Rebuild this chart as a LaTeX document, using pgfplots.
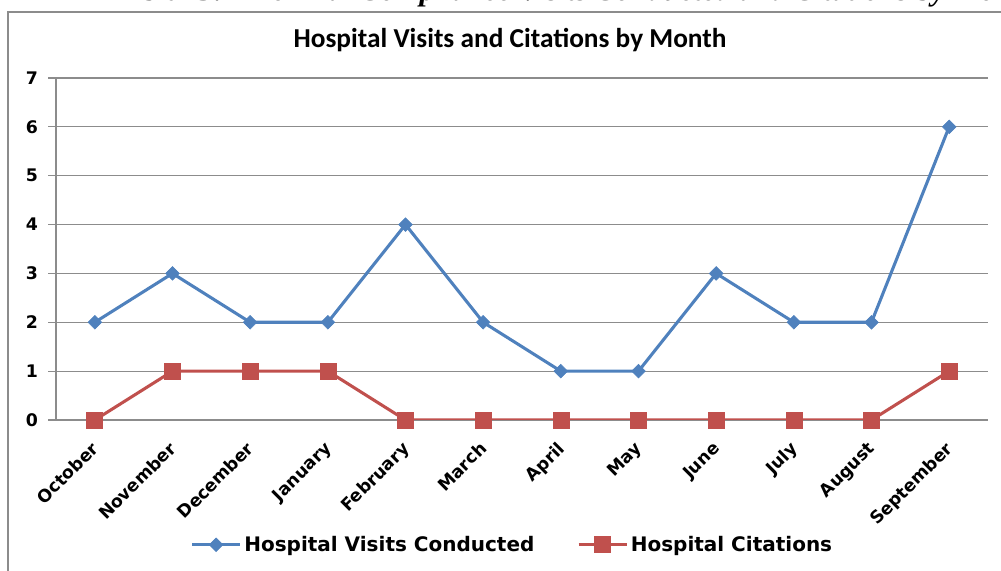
\documentclass[border=0pt]{standalone}
\usepackage{fontspec}
\usepackage{pgfplots}
\pgfplotsset{compat=1.18}
\setmainfont{DejaVu Sans}
\newfontfamily\calfont{Carlito}
\newfontfamily\headfont{Liberation Serif}

\definecolor{visitblue}{HTML}{4F81BD}
\definecolor{citered}{HTML}{C0504D}
\definecolor{gridgray}{HTML}{8C8C8C}

\begin{document}
\begin{tikzpicture}
\useasboundingbox (0pt,0pt) rectangle (750.75pt,428.25pt);
% outer chart frame, running off the right and bottom edges
\draw[gridgray, line width=1pt] (760pt,419.25pt) -- (6pt,419.25pt) -- (6pt,-5pt);
% cut-off caption above the frame
\node[anchor=base west, inner sep=0pt, font=\headfont\bfseries\itshape\fontsize{23}{25}\selectfont]
  at (61pt,428pt) {Exhibit 13: Triennial Compliance Visits Conducted and Citations by Month};
\node[font=\calfont\bfseries\fontsize{20.5}{24}\selectfont] at (382.5pt,398.5pt)
  {Hospital Visits and Citations by Month};

\begin{axis}[
  at={(42pt,113.25pt)}, anchor=south west,
  scale only axis,
  width=699pt, height=256.5pt,
  xmin=-0.5, xmax=11.5,
  ymin=0, ymax=7,
  ytick={0,1,...,7},
  xtick={0,1,...,11},
  xticklabels={October,November,December,January,February,March,April,May,June,July,August,September},
  minor xtick={-0.5,0.5,...,11.5},
  axis lines*=left,
  axis line style={gridgray, line width=0.8pt},
  ymajorgrids,
  grid style={gridgray, line width=0.8pt},
  tick align=outside,
  major tick length=6pt,
  minor tick length=5pt,
  xtick style={draw=none},
  ytick style={gridgray, line width=0.8pt},
  minor tick style={gridgray, line width=0.8pt},
  /pgf/number format/assume math mode=true,
  ticklabel style={font=\bfseries\fontsize{13}{15}\selectfont},
  yticklabel style={xshift=-4pt},
  xticklabel style={xshift=-3.5pt, yshift=-4.5pt, rotate=45, anchor=north east},
  legend style={at={(0.49,-0.365)}, anchor=center, draw=none, fill=none,
    font=\bfseries\fontsize{15}{17}\selectfont,
    legend columns=2, /tikz/every even column/.append style={column sep=30pt}},
  legend image code/.code={\draw[mark repeat=2, mark phase=2, #1]
    plot coordinates {(0pt,0pt)(18pt,0pt)(36pt,0pt)};},
]
\addplot[visitblue, line width=2.3pt, mark=square*, mark size=3.6pt,
  mark options={solid, rotate=45, fill=visitblue, line width=0.5pt}] coordinates {
  (0,2) (1,3) (2,2) (3,2) (4,4) (5,2) (6,1) (7,1) (8,3) (9,2) (10,2) (11,6)
};
\addplot[citered, line width=2.3pt, mark=square*, mark size=6pt,
  mark options={solid, fill=citered, line width=0.5pt}] coordinates {
  (0,0) (1,1) (2,1) (3,1) (4,0) (5,0) (6,0) (7,0) (8,0) (9,0) (10,0) (11,1)
};
\legend{Hospital Visits Conducted, Hospital Citations}
\end{axis}
\end{tikzpicture}
\end{document}
